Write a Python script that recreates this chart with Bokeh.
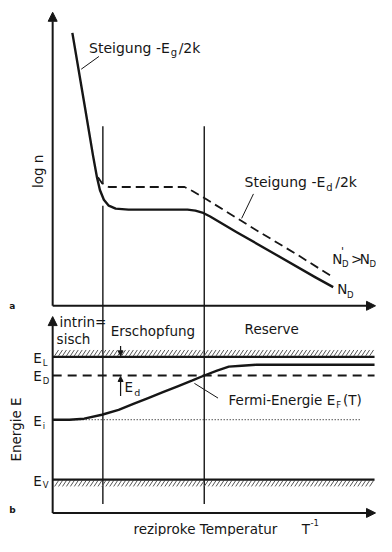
import numpy as np
from bokeh.plotting import figure
from bokeh.models import Range1d, Arrow, NormalHead
from bokeh.core.properties import value
from bokeh.embed import file_html
from bokeh.resources import INLINE

# ---------------- schematic data (drawing units = reference pixels) -------------
# panel a : log n versus reciprocal temperature
solid_x = [73, 86, 94, 98, 101, 105, 110, 117, 130, 160, 190, 198, 205, 213, 240, 280, 320, 338]
solid_y = [33, 110, 158, 180, 193, 203, 209, 212, 213, 213, 213, 214, 216, 220, 236, 259, 282, 292]
dash_x = [99, 103, 110, 150, 187, 195, 210, 260, 300, 338]
dash_y = [180, 186, 190, 190, 190, 194, 203, 234, 258, 282]

# regime boundaries (reciprocal temperature)
bound_x = [104, 207]

# panel b : energy levels
level_names = ["L", "D", "i", "V"]
level_y = [363, 382, 427, 488]
fermi_x = [53, 70, 85, 103, 120, 135, 150, 165, 180, 195, 207, 220, 232, 245, 260, 380]
fermi_y = [427, 427, 426, 422, 417, 411, 405, 399, 393, 387, 382, 377, 373, 372, 371, 371]

FONT = "DejaVu Sans"
INK = "#161616"
FS = 13.5

p = figure(width=376, height=536, x_range=Range1d(0, 382), y_range=Range1d(546, 0),
           output_backend="svg", toolbar_location=None, min_border=0,
           x_axis_type=None, y_axis_type=None)
p.grid.visible = False
p.outline_line_color = None
p.background_fill_color = "white"
p.border_fill_color = "white"


def txt(x, y, s, size=FS, align="left", angle=0.0, weight="normal"):
    p.text(x=[x], y=[y], text=[s], text_font=value(FONT), text_font_size=value(f"{size}px"),
           text_align=align, text_baseline="middle", angle=angle, text_color=INK,
           text_font_style=weight)


def arrow(x0, y0, x1, y1, size=9, width=2.0):
    p.add_layout(Arrow(x_start=x0, y_start=y0, x_end=x1, y_end=y1, line_width=width,
                       line_color=INK,
                       end=NormalHead(size=size, fill_color=INK, line_color=INK, line_width=1)))


# ---------------- axes ----------------
arrow(53, 311, 53, 12)
arrow(53, 311, 381, 311)
arrow(53, 522, 53, 322)
arrow(53, 522, 381, 522)

# ---------------- boundaries ----------------
p.segment(x0=[bound_x[0], bound_x[0], bound_x[1]], y0=[128, 209, 128],
          x1=[bound_x[0], bound_x[0], bound_x[1]], y1=[186, 513, 513],
          line_color=INK, line_width=1.4)

# ---------------- panel a curves ----------------
p.line(solid_x, solid_y, line_color=INK, line_width=2.4, line_join="round")
p.line(dash_x, dash_y, line_color=INK, line_width=1.8, line_dash="9 5")

# leader lines
p.segment(x0=[82, 257, 197], y0=[70, 197, 390], x1=[100, 245, 221], y1=[57, 222, 405],
          line_color=INK, line_width=1.0)

txt(172, 48, "Steigung -E", size=14, align="right")
txt(173, 53, "g", size=10)
txt(181, 48, "/2k", size=14)
txt(330, 185, "Steigung -E", size=14, align="right")
txt(331, 190, "d", size=10)
txt(340, 185, "/2k", size=14)
txt(337, 263, "N")
txt(346, 256, "'", size=11)
txt(347, 268, "D", size=8.5)
txt(356, 263, ">")
txt(365, 263, "N")
txt(375, 268, "D", size=8.5)
txt(342, 294, "N")
txt(352, 300, "D", size=8.5)
txt(38, 174, "log n", angle=np.pi / 2, align="center")
txt(9, 311, "a", size=9, weight="bold")
txt(9, 519, "b", size=9, weight="bold")

# ---------------- panel b ----------------
# hatching of band edges
hx = np.arange(55, 378, 4)
p.segment(x0=hx, y0=[level_y[0] - 1] * len(hx), x1=hx + 4, y1=[level_y[0] - 7] * len(hx),
          line_color="#555555", line_width=1.0)
p.segment(x0=hx, y0=[level_y[3] + 7] * len(hx), x1=hx + 4, y1=[level_y[3] + 1] * len(hx),
          line_color="#555555", line_width=1.0)

p.line([53, 380], [level_y[0]] * 2, line_color=INK, line_width=2.2)
p.line([53, 380], [level_y[1]] * 2, line_color=INK, line_width=1.8, line_dash="9 6")
p.line([53, 366], [level_y[2]] * 2, line_color="#333333", line_width=1.2, line_dash="1 2")
p.line([53, 380], [level_y[3]] * 2, line_color=INK, line_width=2.2)

p.line(fermi_x, fermi_y, line_color=INK, line_width=2.4)

# E_d markers
arrow(122, 352, 122, 362, size=5, width=1.2)
arrow(122, 403, 122, 383, size=5, width=1.2)
txt(126, 394, "E")
txt(136, 399, "d", size=9.5)

for name, y in zip(level_names, level_y):
    txt(42, y + 1, "E", align="right")
    txt(43, y + 6, name, size=8.5)

txt(16, 437, "Energie E", angle=np.pi / 2, align="center")
txt(60, 328, "intrin=")
txt(57, 345, "sisch")
txt(112, 337, "Erschopfung")
txt(248, 335, "Reserve")
txt(340, 407, "Fermi-Energie E", align="right")
txt(341, 412, "F", size=8.5)
txt(348, 407, "(T)")
txt(135, 538, "reziproke Temperatur")
txt(306, 538, "T")
txt(315, 532, "-1", size=8.5)

open("out.html", "w").write(file_html(p, INLINE))
